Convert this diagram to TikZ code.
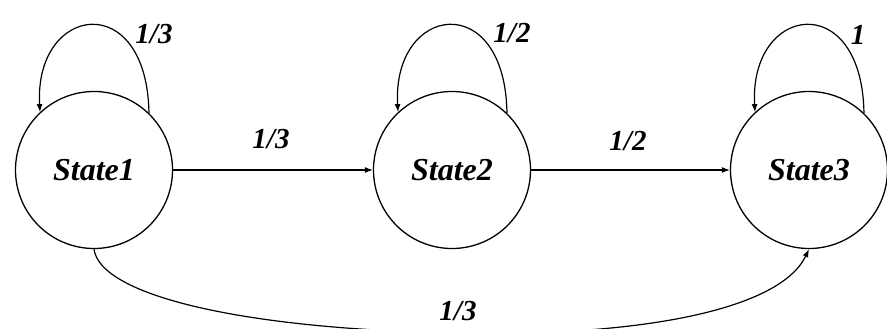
\documentclass[tikz,border=0pt]{standalone}
\usepackage{fontspec}
\setmainfont{Liberation Serif}
\usetikzlibrary{arrows.meta}
\begin{document}
\begin{tikzpicture}[x=1pt,y=-1pt,
  statenode/.style={circle,draw,line width=1.3pt,minimum size=157pt,inner sep=0pt,
    font=\fontsize{32}{36}\selectfont\bfseries\itshape},
  edgelabel/.style={font=\fontsize{29}{32}\selectfont\bfseries\itshape},
  conn/.style={line width=1.2pt,-{Latex[length=8pt,width=6pt]}}]
\useasboundingbox (0,0) rectangle (887,329);
\clip (0,0) rectangle (887,329);
\node[statenode] (s1) at (94,170) {State1};
\node[statenode] (s2) at (452,170) {State2};
\node[statenode] (s3) at (809,170) {State3};
% self loops
\draw[conn] (s1.46) .. controls +(-2,-125) and +(-6,-108) .. (s1.133);
\draw[conn] (s2.46) .. controls +(-2,-125) and +(-6,-108) .. (s2.133);
\draw[conn] (s3.46) .. controls +(-2,-125) and +(-6,-108) .. (s3.133);
\node[edgelabel] (l1) at (154,34) {1/3};
\node[edgelabel] (l2) at (512,33) {1/2};
\node[edgelabel] (l3) at (858,35) {1};
% straight edges
\draw[conn] (s1) -- (s2);
\draw[conn] (s2) -- (s3);
\node[edgelabel] (l4) at (271,139) {1/3};
\node[edgelabel] (l5) at (628,141) {1/2};
% bottom curve
\coordinate (bot) at (455,333);
\draw[line width=1.2pt] (s1.south) .. controls (100,295) and (240,329) .. (bot);
\draw[conn] (bot) .. controls (640,337) and (780,310) .. (s3.south);
\node[edgelabel] (l6) at (458,311) {1/3};
\end{tikzpicture}
\end{document}
